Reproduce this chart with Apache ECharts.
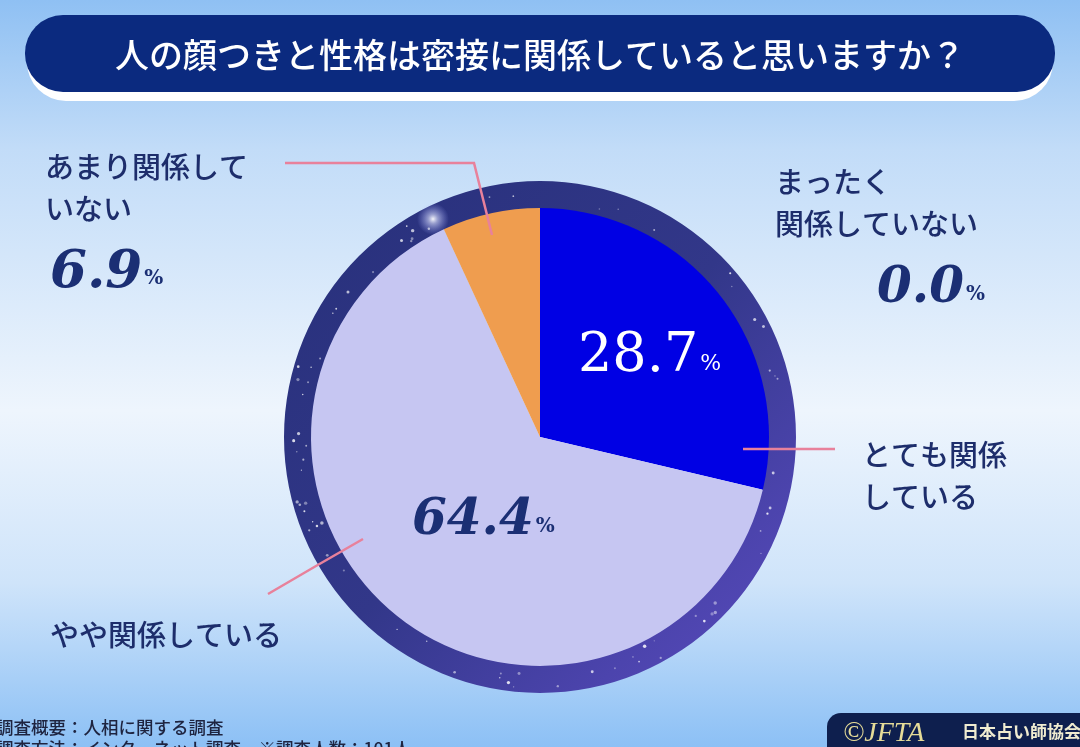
<!DOCTYPE html>
<html>
<head>
<meta charset="utf-8">
<script src="https://cdn.jsdelivr.net/npm/echarts@6/dist/echarts.min.js"></script>
<style>
html,body{margin:0;padding:0;width:1080px;height:747px;overflow:hidden;}
#chart{width:1080px;height:747px;}
</style>
</head>
<body>
<div id="chart"></div>
<script>
// ---- data ----
const titleText = '人の顔つきと性格は密接に関係していると思いますか？';
const categories = ['とても関係している', 'やや関係している', 'あまり関係していない', 'まったく関係していない'];
const values = [28.7, 64.4, 6.9, 0.0];
const nameLabels = ['とても関係\nしている', 'やや関係している', 'あまり関係して\nいない', 'まったく\n関係していない'];
const footLines = ['調査概要：人相に関する調査', '調査方法：インターネット調査　※調査人数：101人'];
const logoMark = '©JFTA';
const logoName = '日本占い師協会';

// ---- styles / layout ----
const CX = 540, CY = 437, R = 229, RING = 256;
const sliceColors = ['#0000e4', '#c6c6f2', '#ef9d4f', '#8a8ad0'];
const navy = '#1d2d6b';
const pink = '#e8819b';
const jp = '"Noto Sans CJK JP", "Noto Sans", sans-serif';
const serif = '"DejaVu Serif", "Liberation Serif", serif';

const pctPos = [
  {x: 578, y: 357},
  {x: 412, y: 521},
  {x: 50, y: 273},
  {x: 877, y: 289}
];
const pctRich = [
  {n: {fontFamily: serif, fontSize: 54, color: '#ffffff'}, p: {fontFamily: serif, fontSize: 22, color: '#ffffff', padding: [14, 0, 0, 2]}},
  {n: {fontFamily: serif, fontSize: 50, fontStyle: 'italic', fontWeight: 'bold', color: '#1b2f74'}, p: {fontFamily: serif, fontSize: 20, fontWeight: 'bold', color: '#1b2f74', padding: [12, 0, 0, 2]}},
  {n: {fontFamily: serif, fontSize: 53, fontStyle: 'italic', fontWeight: 'bold', color: '#1b2f74'}, p: {fontFamily: serif, fontSize: 20, fontWeight: 'bold', color: '#1b2f74', padding: [12, 0, 0, 2]}},
  {n: {fontFamily: serif, fontSize: 50, fontStyle: 'italic', fontWeight: 'bold', color: '#1b2f74'}, p: {fontFamily: serif, fontSize: 20, fontWeight: 'bold', color: '#1b2f74', padding: [12, 0, 0, 2]}}
];
const namePos = [
  {x: 862, y: 434, line: [[743, 449], [790, 449], [835, 449]]},
  {x: 50, y: 614, line: [[363, 539], [316, 566], [268, 594]]},
  {x: 45, y: 146, line: [[492, 235], [474, 163], [285, 163]]},
  {x: 775, y: 161, line: null}
];

// decorative stars on the ring (deterministic)
let seed = 7;
function lcg() { seed = (seed * 9301 + 49297) % 233280; return seed / 233280; }
const stars = [];
for (let i = 0; i < 70; i++) {
  const a = lcg() * Math.PI * 2;
  const rr = R + 4 + lcg() * (RING - R - 8);
  stars.push({
    type: 'circle', silent: true, z: 1,
    shape: {cx: CX + rr * Math.cos(a), cy: CY + rr * Math.sin(a), r: 0.6 + lcg() * 1.2},
    style: {fill: 'rgba(255,255,255,' + (0.35 + lcg() * 0.5).toFixed(2) + ')'}
  });
}

const chart = echarts.init(document.getElementById('chart'), null, {renderer: 'canvas'});

const option = {
  animation: false,
  graphic: [
    {type: 'rect', z: -10, silent: true, shape: {x: 0, y: 0, width: 1080, height: 747},
      style: {fill: {type: 'linear', x: 0, y: 0, x2: 0, y2: 1, colorStops: [
        {offset: 0, color: '#8fc0f3'}, {offset: 0.2, color: '#c2dcf8'},
        {offset: 0.55, color: '#eef5fd'}, {offset: 0.78, color: '#cfe4fa'}, {offset: 1, color: '#8cc0f5'}]}}},
    // title banner
    {type: 'rect', z: 0, silent: true, shape: {x: 27, y: 22, width: 1026, height: 79, r: 39}, style: {fill: '#ffffff'}},
    {type: 'rect', z: 0, silent: true, shape: {x: 25, y: 15, width: 1030, height: 77, r: 38}, style: {fill: '#0b2a7f'}},
    {type: 'text', z: 1, silent: true, x: 540, y: 55,
      style: {text: titleText, font: '500 34px ' + jp, fill: '#ffffff', align: 'center', verticalAlign: 'middle'}},
    // ring around the pie
    {type: 'ring', z: 0, silent: true, shape: {cx: CX, cy: CY, r: RING, r0: R - 1},
      style: {fill: {type: 'linear', x: 0, y: 0, x2: 1, y2: 1, colorStops: [
        {offset: 0, color: '#27307a'}, {offset: 0.5, color: '#323789'}, {offset: 0.8, color: '#4c44ad'}, {offset: 1, color: '#5b4cc0'}]}}},
    {type: 'circle', z: 1, silent: true, shape: {cx: 433, cy: 219, r: 16},
      style: {fill: {type: 'radial', x: 0.5, y: 0.5, r: 0.5, colorStops: [
        {offset: 0, color: 'rgba(255,255,255,0.95)'}, {offset: 0.3, color: 'rgba(220,225,255,0.6)'}, {offset: 1, color: 'rgba(160,170,255,0)'}]}}},
    ...stars,
    // footnote
    {type: 'text', z: 1, silent: true, x: -4, y: 727,
      style: {text: footLines[0], font: '500 17.5px ' + jp, fill: '#1e2440', verticalAlign: 'middle'}},
    {type: 'text', z: 1, silent: true, x: -4, y: 748,
      style: {text: footLines[1], font: '500 17.5px ' + jp, fill: '#1e2440', verticalAlign: 'middle'}},
    // logo
    {type: 'rect', z: 1, silent: true, shape: {x: 827, y: 713, width: 280, height: 60, r: 14}, style: {fill: '#0e1f4e'}},
    {type: 'text', z: 2, silent: true, x: 843, y: 734,
      style: {text: logoMark, font: 'italic 28px ' + '"Liberation Serif", serif', fill: '#e6dc98', verticalAlign: 'middle'}},
    {type: 'text', z: 2, silent: true, x: 962, y: 732,
      style: {text: logoName, font: 'bold 17px ' + jp, fill: '#f0ecd0', verticalAlign: 'middle'}}
  ],
  series: [
    {
      type: 'pie', name: 'slices', z: 2, center: [CX, CY], radius: [0, R], startAngle: 90, clockwise: true,
      avoidLabelOverlap: false, silent: true,
      itemStyle: {borderWidth: 0},
      emphasis: {disabled: true},
      data: categories.map((c, i) => ({
        name: c, value: values[i],
        itemStyle: {color: sliceColors[i]},
        label: {rich: pctRich[i]}
      })),
      label: {
        show: true, position: 'inside',
        formatter: p => '{n|' + p.value.toFixed(1) + '}{p|%}'
      },
      labelLine: {show: false},
      labelLayout: p => ({x: pctPos[p.dataIndex].x, y: pctPos[p.dataIndex].y, align: 'left', verticalAlign: 'middle'})
    },
    {
      type: 'pie', name: 'names', z: 4, center: [CX, CY], radius: [0, R], startAngle: 90, clockwise: true,
      avoidLabelOverlap: false, silent: true,
      itemStyle: {color: 'rgba(0,0,0,0)', borderWidth: 0},
      emphasis: {disabled: true},
      data: categories.map((c, i) => ({
        name: c, value: values[i],
        labelLine: {show: namePos[i].line !== null}
      })),
      label: {
        show: true, position: 'outside',
        formatter: p => nameLabels[p.dataIndex],
        fontFamily: jp, fontSize: 29, fontWeight: 500, color: navy, lineHeight: 42
      },
      labelLine: {show: true, lineStyle: {color: pink, width: 2.5}},
      labelLayout: p => {
        const q = namePos[p.dataIndex];
        const o = {x: q.x, y: q.y, align: 'left', verticalAlign: 'top'};
        if (q.line) o.labelLinePoints = q.line;
        return o;
      }
    }
  ]
};
chart.setOption(option);
</script>
</body>
</html>
